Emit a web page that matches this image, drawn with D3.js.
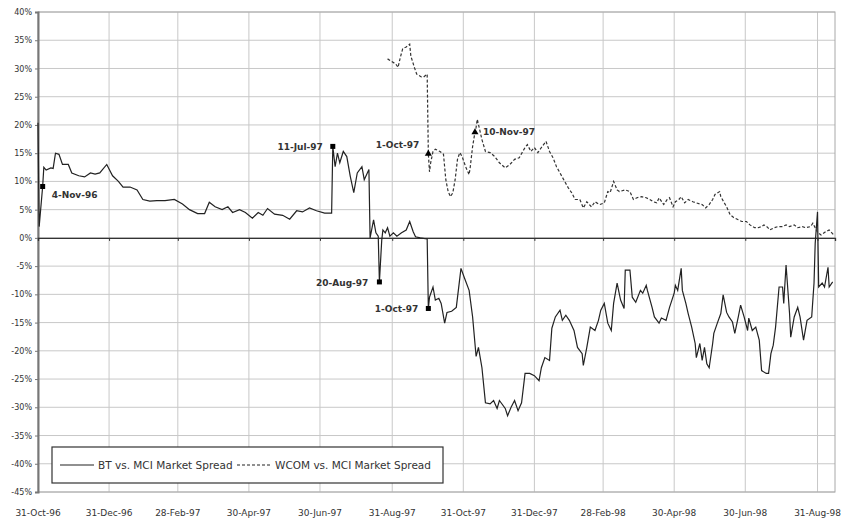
<!DOCTYPE html>
<html>
<head>
<meta charset="utf-8">
<script src="https://cdn.jsdelivr.net/npm/d3@7"></script>
<style>
  body { margin: 0; background: #fff; }
  text { font-family: "DejaVu Sans", Verdana, sans-serif; fill: #333; }
</style>
</head>
<body>
<script>
var width = 845;
var height = 525;
var margin = {top: 12, left: 38, right: 10, bottom: 33};

// BT vs. MCI market spread (%)
var btDates = [
  "1996-10-31","1996-11-01","1996-11-04","1996-11-05","1996-11-07","1996-11-11","1996-11-13","1996-11-15",
  "1996-11-18","1996-11-21","1996-11-26","1996-11-29","1996-12-05","1996-12-10","1996-12-15","1996-12-19",
  "1996-12-23","1996-12-29","1997-01-03","1997-01-08","1997-01-12","1997-01-18","1997-01-24","1997-01-29",
  "1997-02-04","1997-02-10","1997-02-17","1997-02-25","1997-03-04","1997-03-10","1997-03-17","1997-03-23",
  "1997-03-27","1997-04-01","1997-04-07","1997-04-12","1997-04-16","1997-04-22","1997-04-27","1997-05-03",
  "1997-05-08","1997-05-12","1997-05-16","1997-05-22","1997-05-29","1997-06-04","1997-06-10","1997-06-15",
  "1997-06-21","1997-06-27","1997-07-04","1997-07-10","1997-07-11","1997-07-13","1997-07-15","1997-07-17",
  "1997-07-20","1997-07-23","1997-07-26","1997-07-29","1997-08-01","1997-08-05","1997-08-07","1997-08-11",
  "1997-08-12","1997-08-15","1997-08-17","1997-08-19","1997-08-20","1997-08-22","1997-08-23","1997-08-25",
  "1997-08-27","1997-08-29","1997-09-01","1997-09-04","1997-09-08","1997-09-12","1997-09-15","1997-09-18",
  "1997-09-20","1997-09-24","1997-09-30","1997-10-01","1997-10-02","1997-10-05","1997-10-07","1997-10-10",
  "1997-10-12","1997-10-15","1997-10-17","1997-10-21","1997-10-25","1997-10-29","1997-11-01","1997-11-05",
  "1997-11-08","1997-11-11","1997-11-13","1997-11-16","1997-11-19","1997-11-23","1997-11-26","1997-11-29",
  "1997-12-01","1997-12-06","1997-12-08","1997-12-11","1997-12-14","1997-12-17","1997-12-20","1997-12-23",
  "1997-12-27","1997-12-31","1998-01-04","1998-01-06","1998-01-09","1998-01-13","1998-01-15","1998-01-18",
  "1998-01-22","1998-01-24","1998-01-27","1998-01-30","1998-02-03","1998-02-06","1998-02-10","1998-02-11",
  "1998-02-14","1998-02-17","1998-02-21","1998-02-24","1998-02-26","1998-03-01","1998-03-04","1998-03-07",
  "1998-03-09","1998-03-12","1998-03-15","1998-03-18","1998-03-19","1998-03-23","1998-03-25","1998-03-28",
  "1998-04-01","1998-04-03","1998-04-06","1998-04-07","1998-04-11","1998-04-13","1998-04-17","1998-04-19",
  "1998-04-23","1998-04-26","1998-04-30","1998-05-01","1998-05-03","1998-05-06","1998-05-07","1998-05-10",
  "1998-05-12","1998-05-15","1998-05-18","1998-05-19","1998-05-22","1998-05-24","1998-05-26","1998-05-28",
  "1998-05-30","1998-06-02","1998-06-03","1998-06-06","1998-06-09","1998-06-11","1998-06-14","1998-06-16",
  "1998-06-19","1998-06-21","1998-06-24","1998-06-26","1998-06-29","1998-07-02","1998-07-03","1998-07-06",
  "1998-07-09","1998-07-12","1998-07-14","1998-07-18","1998-07-20","1998-07-22","1998-07-24","1998-07-26",
  "1998-07-29","1998-08-01","1998-08-02","1998-08-04","1998-08-07","1998-08-08","1998-08-11","1998-08-14",
  "1998-08-16","1998-08-19","1998-08-22","1998-08-26","1998-08-28","1998-08-29","1998-08-31","1998-09-01",
  "1998-09-04","1998-09-06","1998-09-09","1998-09-10","1998-09-13"
];
var btValues = [
  20.4, 2.0, 9.1, 12.5, 12.0, 12.4, 12.3, 15.0,
  14.8, 13.0, 13.0, 11.5, 11.0, 10.8, 11.5, 11.3,
  11.5, 13.0, 11.0, 10.0, 9.0, 9.0, 8.5, 6.8,
  6.5, 6.6, 6.6, 6.8, 6.0, 5.0, 4.3, 4.3,
  6.3, 5.5, 5.0, 5.5, 4.5, 5.0, 4.5, 3.5,
  4.5, 4.0, 5.2, 4.2, 4.0, 3.3, 4.8, 4.6,
  5.3, 4.8, 4.4, 4.4, 16.2, 12.6, 15.0, 13.3,
  15.3, 14.4, 10.9, 8.0, 11.5, 12.6, 10.3, 12.1,
  0.0, 3.2, 0.9, 0.3, -7.8, -0.4, 1.4, 0.9,
  1.8, 0.3, 0.9, 0.3, 0.9, 1.4, 2.9, 1.1,
  0.2, 0.0, -0.2, -12.5, -10.5, -8.7, -11.0, -10.7,
  -11.6, -15.1, -13.2, -13.0, -12.3, -5.4, -7.1, -9.3,
  -14.0, -21.0, -19.4, -23.0, -29.2, -29.4, -28.8, -30.2,
  -28.8, -30.2, -31.5, -30.0, -28.8, -30.6, -29.2, -24.0,
  -24.0, -24.4, -25.3, -23.0, -21.2, -21.7, -16.0, -14.0,
  -12.8, -14.6, -13.7, -14.6, -16.4, -19.4, -20.5, -22.6,
  -19.4, -15.8, -16.4, -14.6, -12.8, -11.6, -15.1, -16.4,
  -11.6, -8.0, -11.0, -12.5, -5.7, -5.7, -10.5, -11.4,
  -9.3, -9.8, -8.4, -9.3, -12.3, -14.0, -15.1, -14.2,
  -14.6, -12.3, -9.8, -8.4, -9.3, -5.4, -9.3, -11.6,
  -13.4, -15.8, -18.7, -21.2, -18.7, -21.7, -19.4, -22.3,
  -23.0, -18.7, -16.9, -15.1, -13.4, -10.1, -13.2, -14.0,
  -14.9, -16.9, -14.0, -11.9, -14.0, -16.4, -14.2, -16.4,
  -15.8, -18.1, -23.5, -24.0, -24.0, -20.5, -19.0, -15.8,
  -8.7, -8.7, -11.6, -4.8, -13.4, -17.6, -14.0, -12.3,
  -14.0, -18.1, -14.6, -14.0, -8.0, -1.0, 4.6, -8.7,
  -8.0, -8.7, -5.2, -8.7, -7.8
];

// WCOM vs. MCI market spread (%)
var wcomDates = [
  "1997-08-27","1997-08-30","1997-09-03","1997-09-05","1997-09-07","1997-09-09","1997-09-12","1997-09-15",
  "1997-09-16","1997-09-19","1997-09-21","1997-09-25","1997-09-27","1997-09-30","1997-10-01","1997-10-02",
  "1997-10-03","1997-10-05","1997-10-07","1997-10-11","1997-10-14","1997-10-16","1997-10-18","1997-10-20",
  "1997-10-22","1997-10-24","1997-10-26","1997-10-28","1997-10-30","1997-11-02","1997-11-05","1997-11-06",
  "1997-11-08","1997-11-10","1997-11-11","1997-11-12","1997-11-16","1997-11-19","1997-11-23","1997-11-27",
  "1997-12-01","1997-12-06","1997-12-10","1997-12-14","1997-12-18","1997-12-23","1997-12-25","1997-12-28",
  "1997-12-31","1998-01-03","1998-01-06","1998-01-10","1998-01-13","1998-01-16","1998-01-19","1998-01-22",
  "1998-01-26","1998-01-29","1998-02-01","1998-02-04","1998-02-08","1998-02-11","1998-02-14","1998-02-18",
  "1998-02-21","1998-02-25","1998-03-01","1998-03-04","1998-03-06","1998-03-09","1998-03-12","1998-03-14",
  "1998-03-19","1998-03-23","1998-03-26","1998-03-29","1998-04-02","1998-04-06","1998-04-09","1998-04-12",
  "1998-04-15","1998-04-17","1998-04-21","1998-04-24","1998-04-26","1998-04-29","1998-05-01","1998-05-04",
  "1998-05-06","1998-05-09","1998-05-12","1998-05-16","1998-05-19","1998-05-24","1998-05-27","1998-05-30",
  "1998-06-02","1998-06-04","1998-06-08","1998-06-09","1998-06-12","1998-06-14","1998-06-17","1998-06-20",
  "1998-06-24","1998-06-27","1998-07-01","1998-07-04","1998-07-08","1998-07-11","1998-07-14","1998-07-16",
  "1998-07-19","1998-07-21","1998-07-25","1998-07-28","1998-08-01","1998-08-04","1998-08-07","1998-08-11",
  "1998-08-14","1998-08-18","1998-08-21","1998-08-25","1998-08-27","1998-08-31","1998-09-03","1998-09-07",
  "1998-09-10","1998-09-14"
];
var wcomValues = [
  31.7, 31.3, 30.8, 30.2, 32.0, 33.5, 33.8, 34.3,
  32.2, 30.2, 29.0, 28.5, 28.5, 29.0, 14.9, 11.7,
  13.3, 15.3, 15.7, 15.3, 14.8, 10.3, 8.2, 7.3,
  8.0, 10.3, 13.9, 15.1, 14.4, 12.6, 11.2, 12.6,
  16.2, 18.7, 19.6, 21.0, 17.4, 15.3, 15.1, 14.4,
  13.3, 12.4, 13.0, 13.9, 14.2, 16.0, 16.5, 15.3,
  16.0, 15.1, 16.0, 17.1, 15.3, 14.2, 12.6, 11.5,
  10.0, 8.9, 8.0, 6.8, 6.8, 5.3, 6.4, 5.5,
  6.4, 5.9, 6.2, 8.2, 8.0, 10.0, 8.5, 8.2,
  8.5, 8.2, 6.8, 7.1, 7.3, 7.1, 6.8, 6.4,
  6.2, 7.1, 5.9, 6.8, 7.1, 5.5, 6.4, 6.8,
  7.3, 6.2, 6.8, 6.4, 6.2, 5.9, 5.3, 5.9,
  6.8, 7.7, 8.2, 7.3, 6.2, 5.5, 4.1, 3.6,
  3.2, 2.9, 2.9, 2.3, 1.8, 1.8, 2.0, 2.3,
  1.9, 1.4, 1.8, 2.0, 2.0, 2.3, 2.0, 2.3,
  1.8, 2.0, 1.8, 2.0, 2.6, 1.0, 0.5, 1.1,
  1.4, 0.5
];

var tickDates = ["1996-10-31","1996-12-31","1997-02-28","1997-04-30","1997-06-30","1997-08-31",
                 "1997-10-31","1997-12-31","1998-02-28","1998-04-30","1998-06-30","1998-08-31"];
var tickLabels = ["31-Oct-96","31-Dec-96","28-Feb-97","30-Apr-97","30-Jun-97","31-Aug-97",
                  "31-Oct-97","31-Dec-97","28-Feb-98","30-Apr-98","30-Jun-98","31-Aug-98"];
var yTicks = [40, 35, 30, 25, 20, 15, 10, 5, 0, -5, -10, -15, -20, -25, -30, -35, -40, -45];

var btMarkDates = ["1996-11-04","1997-07-11","1997-08-20","1997-10-01"];
var btMarkLabels = ["4-Nov-96","11-Jul-97","20-Aug-97","1-Oct-97"];
var wcomMarkDates = ["1997-10-01","1997-11-10"];
var wcomMarkLabels = ["1-Oct-97","10-Nov-97"];

var seriesNames = ["BT vs. MCI Market Spread", "WCOM vs. MCI Market Spread"];

var parse = d3.timeParse("%Y-%m-%d");

var btData = btDates.map(function(d, i) { return {date: parse(d), value: btValues[i]}; });
var wcomData = wcomDates.map(function(d, i) { return {date: parse(d), value: wcomValues[i]}; });

var svg = d3.select("body")
  .append("svg")
  .attr("width", width)
  .attr("height", height);

svg.append("rect")
  .attr("width", width)
  .attr("height", height)
  .attr("fill", "#fff");

var xScale = d3.scaleTime()
  .domain([parse("1996-10-31"), parse("1998-09-15")])
  .range([margin.left, width - margin.right]);

var yScale = d3.scaleLinear()
  .domain([-45, 40])
  .range([height - margin.bottom, margin.top]);

// horizontal grid
svg.append("g")
  .selectAll("line")
  .data(yTicks)
  .enter()
  .append("line")
    .attr("x1", margin.left)
    .attr("x2", xScale.range()[1])
    .attr("y1", function(d) { return yScale(d); })
    .attr("y2", function(d) { return yScale(d); })
    .attr("stroke", "#c8c8c8")
    .attr("stroke-width", 1);

// vertical grid
svg.append("g")
  .selectAll("line")
  .data(tickDates)
  .enter()
  .append("line")
    .attr("x1", function(d) { return xScale(parse(d)); })
    .attr("x2", function(d) { return xScale(parse(d)); })
    .attr("y1", yScale(40))
    .attr("y2", yScale(-45))
    .attr("stroke", "#c8c8c8")
    .attr("stroke-width", 1);

// plot border
svg.append("rect")
  .attr("x", margin.left)
  .attr("y", yScale(40))
  .attr("width", xScale.range()[1] - margin.left)
  .attr("height", yScale(-45) - yScale(40))
  .attr("fill", "none")
  .attr("stroke", "#a8a8a8");

// y axis
var yAxis = svg.append("g")
  .attr("transform", `translate(${margin.left},0)`)
  .call(d3.axisLeft(yScale).tickValues(yTicks).tickSize(3).tickPadding(3)
    .tickFormat(function(d) { return d + "%"; }));
yAxis.select(".domain").attr("stroke", "#777").attr("stroke-width", 2);
yAxis.selectAll(".tick line").attr("stroke", "#777");
yAxis.selectAll("text").attr("font-size", 8).attr("fill", "#444")
  .style("font-family", "'DejaVu Sans', sans-serif");

// x axis along 0%, labels at the bottom
var xAxis = svg.append("g")
  .attr("transform", `translate(0,${yScale(0)})`)
  .call(d3.axisBottom(xScale).tickValues(tickDates.map(parse)).tickSize(3).tickFormat(""));
xAxis.select(".domain").attr("stroke", "#333").attr("stroke-width", 1.3);
xAxis.selectAll(".tick line").attr("stroke", "#333");

svg.append("g")
  .selectAll("text")
  .data(tickDates)
  .enter()
  .append("text")
    .attr("x", function(d) { return xScale(parse(d)); })
    .attr("y", height - 9)
    .attr("text-anchor", "middle")
    .attr("font-size", 9)
    .attr("fill", "#444")
    .text(function(d, i) { return tickLabels[i]; });

var line = d3.line()
  .x(function(d) { return xScale(d.date); })
  .y(function(d) { return yScale(d.value); });

svg.append("path")
  .datum(btData)
  .attr("d", line)
  .attr("fill", "none")
  .attr("stroke", "#222")
  .attr("stroke-width", 1.2);

svg.append("path")
  .datum(wcomData)
  .attr("d", line)
  .attr("fill", "none")
  .attr("stroke", "#333")
  .attr("stroke-width", 1.2)
  .attr("stroke-dasharray", "3,2");

// markers and labels
function valueAt(data, s) {
  var t = parse(s).getTime();
  return data.find(function(d) { return d.date.getTime() === t; }).value;
}

// label offsets from the marker: [dx, dy, anchor]
var btLabelPos = [[9, 12, "start"], [-10, 4, "end"], [-11, 4, "end"], [-10, 4, "end"]];
var wcomLabelPos = [[-9, -6, "end"], [8, 3, "start"]];

svg.append("g")
  .selectAll("rect")
  .data(btMarkDates)
  .enter()
  .append("rect")
    .attr("x", function(d) { return xScale(parse(d)) - 2.5; })
    .attr("y", function(d) { return yScale(valueAt(btData, d)) - 2.5; })
    .attr("width", 5)
    .attr("height", 5)
    .attr("fill", "#000");

svg.append("g")
  .selectAll("path")
  .data(wcomMarkDates)
  .enter()
  .append("path")
    .attr("d", d3.symbol().type(d3.symbolTriangle).size(22))
    .attr("transform", function(d) {
      return `translate(${xScale(parse(d))},${yScale(valueAt(wcomData, d))})`;
    })
    .attr("fill", "#000");

svg.append("g")
  .selectAll("text")
  .data(btMarkDates)
  .enter()
  .append("text")
    .attr("x", function(d, i) { return xScale(parse(d)) + btLabelPos[i][0]; })
    .attr("y", function(d, i) { return yScale(valueAt(btData, d)) + btLabelPos[i][1]; })
    .attr("text-anchor", function(d, i) { return btLabelPos[i][2]; })
    .attr("font-size", 9)
    .attr("font-weight", "bold")
    .attr("fill", "#222")
    .text(function(d, i) { return btMarkLabels[i]; });

svg.append("g")
  .selectAll("text")
  .data(wcomMarkDates)
  .enter()
  .append("text")
    .attr("x", function(d, i) { return xScale(parse(d)) + wcomLabelPos[i][0]; })
    .attr("y", function(d, i) { return yScale(valueAt(wcomData, d)) + wcomLabelPos[i][1]; })
    .attr("text-anchor", function(d, i) { return wcomLabelPos[i][2]; })
    .attr("font-size", 9)
    .attr("font-weight", "bold")
    .attr("fill", "#222")
    .text(function(d, i) { return wcomMarkLabels[i]; });

// legend
var legend = svg.append("g").attr("transform", "translate(52,447)");
legend.append("rect")
  .attr("width", 391)
  .attr("height", 36)
  .attr("fill", "#fff")
  .attr("stroke", "#333")
  .attr("stroke-width", 1.2);

var legendItems = legend.selectAll("g")
  .data(seriesNames)
  .enter()
  .append("g")
    .attr("transform", function(d, i) { return `translate(${i === 0 ? 8 : 185},18)`; });

legendItems.append("line")
  .attr("x1", 0)
  .attr("x2", 34)
  .attr("stroke", "#222")
  .attr("stroke-width", 1.2)
  .attr("stroke-dasharray", function(d, i) { return i === 0 ? null : "3,2"; });

legendItems.append("text")
  .attr("x", 38)
  .attr("y", 3.5)
  .attr("font-size", 10.5)
  .attr("fill", "#333")
  .text(function(d) { return d; });
</script>
</body>
</html>
